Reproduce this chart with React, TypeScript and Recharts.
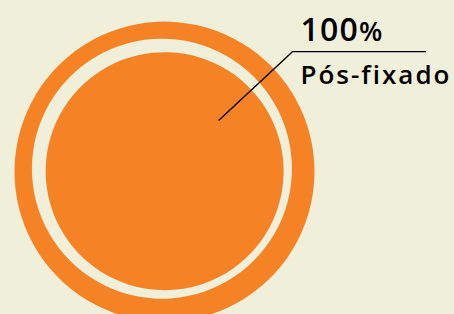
import { Pie, PieChart, Cell } from "recharts";

const categories = ["Pós-fixado"];
const shares = [100];

const data = categories.map((name, i) => ({ name, value: shares[i] }));

const orange = "#F58325";
const background = "#F0EFDA";

// visual centre of the rings; the labelled ring renders 5px off, so it is nudged back
const CENTER_X = 164.5;
const CENTER_Y = 171;
const SHIFT = 5;

const RADIAN = Math.PI / 180;

function renderLabel(props: any) {
  const { midAngle, name, value } = props;
  const cos = Math.cos(-midAngle * RADIAN);
  const sin = Math.sin(-midAngle * RADIAN);
  const sx = CENTER_X + 74 * cos;
  const sy = CENTER_Y + 74 * sin;
  const mx = CENTER_X + 175 * cos;
  const my = CENTER_Y + 175 * sin;
  const ex = 426;
  return (
    <g>
      <polyline
        points={`${sx},${sy} ${mx},${my} ${ex},${my}`}
        fill="none"
        stroke="#000"
        strokeWidth={1.3}
      />
      <text
        x={mx + 8}
        y={my - 11}
        fill="#000"
        fontFamily="'Open Sans', sans-serif"
        fontWeight={600}
      >
        <tspan fontSize={32} letterSpacing={1.2}>{value}</tspan>
        <tspan fontSize={27}>%</tspan>
      </text>
      <text
        x={mx + 8}
        y={my + 32}
        fill="#000"
        fontFamily="'Open Sans', sans-serif"
        fontWeight={600}
        fontSize={26}
        letterSpacing={2}
      >
        {name}
      </text>
    </g>
  );
}

export default function App() {
  return (
    <div
      style={{
        position: "absolute",
        top: 0,
        left: 0,
        width: 454,
        height: 314,
        background,
        overflow: "hidden",
      }}
    >
      <PieChart width={454} height={314} margin={{ top: 0, right: 0, bottom: 0, left: 0 }}>
        <Pie
          data={data}
          dataKey="value"
          nameKey="name"
          cx={CENTER_X - SHIFT}
          cy={CENTER_Y - SHIFT}
          innerRadius={130}
          outerRadius={150}
          startAngle={-137}
          endAngle={223}
          stroke="none"
          isAnimationActive={false}
          labelLine={false}
          label={renderLabel}
        >
          {data.map((d) => (
            <Cell key={d.name} fill={orange} />
          ))}
        </Pie>
        <Pie
          data={data}
          dataKey="value"
          nameKey="name"
          cx={CENTER_X}
          cy={CENTER_Y}
          innerRadius={0}
          outerRadius={119}
          startAngle={-137}
          endAngle={223}
          stroke="none"
          isAnimationActive={false}
          labelLine={false}
        >
          {data.map((d) => (
            <Cell key={d.name} fill={orange} />
          ))}
        </Pie>
      </PieChart>
    </div>
  );
}
